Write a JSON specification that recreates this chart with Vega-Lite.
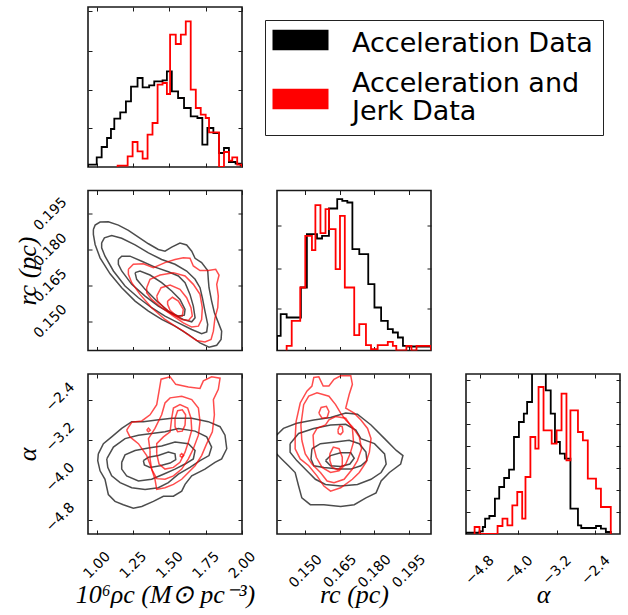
{
"$schema":"https://vega.github.io/schema/vega-lite/v6.json",
"background":"white",
"padding":{"left":13,"top":5,"right":5,"bottom":5},
"config":{
"view":{"stroke":"#1a1a1a","strokeWidth":1.6},
"axis":{"domain":false,"grid":false,"ticks":true,"tickSize":-4,"tickColor":"#1a1a1a","tickWidth":1,"labelFont":"DejaVu Sans","labelFontSize":14,"labelColor":"black","labelAngle":-45,"labelAlign":"center","labelBaseline":"middle","labelOverlap":false,"labelFlush":false,"titleFont":"Liberation Serif","titleFontStyle":"italic","titleFontWeight":"normal","titleFontSize":26,"titleColor":"black","titleAlign":"center","titleBaseline":"middle"}
},
"datasets":{
"hr":[
{"s":"A","x":0.94,"h":0},{"s":"A","x":0.94,"h":7},{"s":"A","x":1.0,"h":29},{"s":"A","x":1.034,"h":60},{"s":"A","x":1.071,"h":87},{"s":"A","x":1.098,"h":114},{"s":"A","x":1.121,"h":145},{"s":"A","x":1.162,"h":164},{"s":"A","x":1.201,"h":197},{"s":"A","x":1.236,"h":241},{"s":"A","x":1.281,"h":267},{"s":"A","x":1.316,"h":239},{"s":"A","x":1.361,"h":245},{"s":"A","x":1.396,"h":257},{"s":"A","x":1.453,"h":260},{"s":"A","x":1.483,"h":287},{"s":"A","x":1.517,"h":227},{"s":"A","x":1.56,"h":207},{"s":"A","x":1.601,"h":177},{"s":"A","x":1.647,"h":152},{"s":"A","x":1.693,"h":147},{"s":"A","x":1.727,"h":67},{"s":"A","x":1.762,"h":117},{"s":"A","x":1.803,"h":102},{"s":"A","x":1.842,"h":42},{"s":"A","x":1.876,"h":57},{"s":"A","x":1.91,"h":15},{"s":"A","x":1.956,"h":10},{"s":"A","x":1.99,"h":5},{"s":"A","x":2.0,"h":0},
{"s":"J","x":1.144,"h":0},{"s":"J","x":1.144,"h":4},{"s":"J","x":1.213,"h":32},{"s":"J","x":1.247,"h":75},{"s":"J","x":1.281,"h":47},{"s":"J","x":1.316,"h":25},{"s":"J","x":1.35,"h":97},{"s":"J","x":1.384,"h":132},{"s":"J","x":1.419,"h":247},{"s":"J","x":1.453,"h":252},{"s":"J","x":1.483,"h":219},{"s":"J","x":1.505,"h":397},{"s":"J","x":1.544,"h":369},{"s":"J","x":1.579,"h":397},{"s":"J","x":1.613,"h":437},{"s":"J","x":1.647,"h":232},{"s":"J","x":1.682,"h":177},{"s":"J","x":1.716,"h":157},{"s":"J","x":1.75,"h":147},{"s":"J","x":1.773,"h":104},{"s":"J","x":1.842,"h":0},{"s":"J","x":1.876,"h":45},{"s":"J","x":1.91,"h":19},{"s":"J","x":1.933,"h":29},{"s":"J","x":1.967,"h":7},{"s":"J","x":2.0,"h":0}
],
"hc":[
{"s":"A","x":0.1377,"h":0},{"s":"A","x":0.1377,"h":44},{"s":"A","x":0.1393,"h":109},{"s":"A","x":0.1419,"h":99},{"s":"A","x":0.1481,"h":189},{"s":"A","x":0.1507,"h":349},{"s":"A","x":0.1551,"h":336},{"s":"A","x":0.1573,"h":344},{"s":"A","x":0.1603,"h":426},{"s":"A","x":0.1639,"h":454},{"s":"A","x":0.1661,"h":449},{"s":"A","x":0.1683,"h":444},{"s":"A","x":0.1705,"h":304},{"s":"A","x":0.1735,"h":289},{"s":"A","x":0.1774,"h":199},{"s":"A","x":0.1801,"h":129},{"s":"A","x":0.183,"h":89},{"s":"A","x":0.1859,"h":64},{"s":"A","x":0.1881,"h":54},{"s":"A","x":0.1903,"h":39},{"s":"A","x":0.1925,"h":14},{"s":"A","x":0.1947,"h":12},{"s":"A","x":0.2047,"h":0},
{"s":"J","x":0.1419,"h":0},{"s":"J","x":0.1419,"h":14},{"s":"J","x":0.1441,"h":89},{"s":"J","x":0.1478,"h":189},{"s":"J","x":0.15,"h":344},{"s":"J","x":0.1529,"h":301},{"s":"J","x":0.1544,"h":436},{"s":"J","x":0.1566,"h":352},{"s":"J","x":0.1588,"h":424},{"s":"J","x":0.1603,"h":364},{"s":"J","x":0.1632,"h":244},{"s":"J","x":0.1651,"h":404},{"s":"J","x":0.1672,"h":189},{"s":"J","x":0.1713,"h":46},{"s":"J","x":0.1735,"h":79},{"s":"J","x":0.1764,"h":16},{"s":"J","x":0.1786,"h":4},{"s":"J","x":0.1815,"h":16},{"s":"J","x":0.1859,"h":26},{"s":"J","x":0.1881,"h":14},{"s":"J","x":0.1896,"h":0},{"s":"J","x":0.194,"h":14},{"s":"J","x":0.1962,"h":0},{"s":"J","x":0.1984,"h":14},{"s":"J","x":0.2047,"h":0}
],
"ha":[
{"s":"A","x":-5.08,"h":0},{"s":"A","x":-5.08,"h":4},{"s":"A","x":-4.8,"h":8},{"s":"A","x":-4.732,"h":21},{"s":"A","x":-4.684,"h":46},{"s":"A","x":-4.596,"h":54},{"s":"A","x":-4.481,"h":106},{"s":"A","x":-4.392,"h":141},{"s":"A","x":-4.29,"h":168},{"s":"A","x":-4.188,"h":193},{"s":"A","x":-4.086,"h":291},{"s":"A","x":-3.984,"h":336},{"s":"A","x":-3.882,"h":361},{"s":"A","x":-3.814,"h":396},{"s":"A","x":-3.712,"h":506},{"s":"A","x":-3.427,"h":431},{"s":"A","x":-3.325,"h":361},{"s":"A","x":-3.237,"h":276},{"s":"A","x":-3.135,"h":241},{"s":"A","x":-3.033,"h":226},{"s":"A","x":-2.917,"h":76},{"s":"A","x":-2.761,"h":26},{"s":"A","x":-2.693,"h":18},{"s":"A","x":-2.387,"h":24},{"s":"A","x":-2.285,"h":16},{"s":"A","x":-2.183,"h":6},{"s":"A","x":-2.081,"h":0},
{"s":"J","x":-4.902,"h":0},{"s":"J","x":-4.902,"h":21},{"s":"J","x":-4.8,"h":0},{"s":"J","x":-4.426,"h":24},{"s":"J","x":-4.324,"h":46},{"s":"J","x":-4.222,"h":26},{"s":"J","x":-4.12,"h":86},{"s":"J","x":-4.018,"h":126},{"s":"J","x":-3.916,"h":46},{"s":"J","x":-3.848,"h":171},{"s":"J","x":-3.746,"h":291},{"s":"J","x":-3.644,"h":256},{"s":"J","x":-3.577,"h":441},{"s":"J","x":-3.474,"h":311},{"s":"J","x":-3.305,"h":271},{"s":"J","x":-3.203,"h":311},{"s":"J","x":-3.101,"h":421},{"s":"J","x":-2.999,"h":221},{"s":"J","x":-2.917,"h":371},{"s":"J","x":-2.761,"h":306},{"s":"J","x":-2.659,"h":281},{"s":"J","x":-2.557,"h":166},{"s":"J","x":-2.387,"h":136},{"s":"J","x":-2.285,"h":81},{"s":"J","x":-2.081,"h":0}
],
"c1":[
{"s":"A","c":1,"x":0.977,"y":0.1884},{"s":"A","c":1,"x":0.989,"y":0.1902},{"s":"A","c":1,"x":1.023,"y":0.1915},{"s":"A","c":1,"x":1.08,"y":0.1916},{"s":"A","c":1,"x":1.149,"y":0.1902},{"s":"A","c":1,"x":1.218,"y":0.188},{"s":"A","c":1,"x":1.287,"y":0.1852},{"s":"A","c":1,"x":1.356,"y":0.1824},{"s":"A","c":1,"x":1.424,"y":0.18},{"s":"A","c":1,"x":1.47,"y":0.1793},{"s":"A","c":1,"x":1.516,"y":0.181},{"s":"A","c":1,"x":1.573,"y":0.1827},{"s":"A","c":1,"x":1.619,"y":0.1819},{"s":"A","c":1,"x":1.654,"y":0.1793},{"s":"A","c":1,"x":1.677,"y":0.1763},{"s":"A","c":1,"x":1.722,"y":0.1745},{"s":"A","c":1,"x":1.764,"y":0.1712},{"s":"A","c":1,"x":1.768,"y":0.1675},{"s":"A","c":1,"x":1.773,"y":0.164},{"s":"A","c":1,"x":1.791,"y":0.1584},{"s":"A","c":1,"x":1.81,"y":0.1535},{"s":"A","c":1,"x":1.833,"y":0.15},{"s":"A","c":1,"x":1.86,"y":0.1458},{"s":"A","c":1,"x":1.856,"y":0.1423},{"s":"A","c":1,"x":1.826,"y":0.1399},{"s":"A","c":1,"x":1.773,"y":0.1391},{"s":"A","c":1,"x":1.711,"y":0.1409},{"s":"A","c":1,"x":1.631,"y":0.1444},{"s":"A","c":1,"x":1.539,"y":0.1479},{"s":"A","c":1,"x":1.447,"y":0.1507},{"s":"A","c":1,"x":1.356,"y":0.1542},{"s":"A","c":1,"x":1.264,"y":0.1584},{"s":"A","c":1,"x":1.172,"y":0.164},{"s":"A","c":1,"x":1.092,"y":0.1698},{"s":"A","c":1,"x":1.023,"y":0.1765},{"s":"A","c":1,"x":0.989,"y":0.1821},{"s":"A","c":1,"x":0.977,"y":0.1863},{"s":"A","c":1,"x":0.977,"y":0.1884},
{"s":"A","c":2,"x":1.034,"y":0.1828},{"s":"A","c":2,"x":1.053,"y":0.1849},{"s":"A","c":2,"x":1.103,"y":0.1858},{"s":"A","c":2,"x":1.172,"y":0.1847},{"s":"A","c":2,"x":1.264,"y":0.1819},{"s":"A","c":2,"x":1.356,"y":0.1786},{"s":"A","c":2,"x":1.447,"y":0.1758},{"s":"A","c":2,"x":1.539,"y":0.1738},{"s":"A","c":2,"x":1.619,"y":0.171},{"s":"A","c":2,"x":1.677,"y":0.1675},{"s":"A","c":2,"x":1.711,"y":0.164},{"s":"A","c":2,"x":1.727,"y":0.1598},{"s":"A","c":2,"x":1.745,"y":0.1542},{"s":"A","c":2,"x":1.764,"y":0.1486},{"s":"A","c":2,"x":1.757,"y":0.1455},{"s":"A","c":2,"x":1.722,"y":0.1447},{"s":"A","c":2,"x":1.654,"y":0.1465},{"s":"A","c":2,"x":1.562,"y":0.1493},{"s":"A","c":2,"x":1.47,"y":0.1521},{"s":"A","c":2,"x":1.378,"y":0.1556},{"s":"A","c":2,"x":1.287,"y":0.1598},{"s":"A","c":2,"x":1.195,"y":0.1647},{"s":"A","c":2,"x":1.115,"y":0.171},{"s":"A","c":2,"x":1.057,"y":0.1772},{"s":"A","c":2,"x":1.034,"y":0.1807},{"s":"A","c":2,"x":1.034,"y":0.1828},
{"s":"A","c":3,"x":1.149,"y":0.1758},{"s":"A","c":3,"x":1.172,"y":0.1772},{"s":"A","c":3,"x":1.229,"y":0.1772},{"s":"A","c":3,"x":1.31,"y":0.1751},{"s":"A","c":3,"x":1.401,"y":0.1726},{"s":"A","c":3,"x":1.493,"y":0.1707},{"s":"A","c":3,"x":1.562,"y":0.1689},{"s":"A","c":3,"x":1.608,"y":0.1661},{"s":"A","c":3,"x":1.642,"y":0.1612},{"s":"A","c":3,"x":1.665,"y":0.1563},{"s":"A","c":3,"x":1.677,"y":0.1514},{"s":"A","c":3,"x":1.654,"y":0.1497},{"s":"A","c":3,"x":1.596,"y":0.1507},{"s":"A","c":3,"x":1.516,"y":0.1531},{"s":"A","c":3,"x":1.424,"y":0.1563},{"s":"A","c":3,"x":1.333,"y":0.1605},{"s":"A","c":3,"x":1.241,"y":0.1654},{"s":"A","c":3,"x":1.172,"y":0.171},{"s":"A","c":3,"x":1.149,"y":0.1738},{"s":"A","c":3,"x":1.149,"y":0.1758},
{"s":"A","c":4,"x":1.264,"y":0.1703},{"s":"A","c":4,"x":1.298,"y":0.171},{"s":"A","c":4,"x":1.367,"y":0.1693},{"s":"A","c":4,"x":1.447,"y":0.1661},{"s":"A","c":4,"x":1.516,"y":0.1626},{"s":"A","c":4,"x":1.573,"y":0.1591},{"s":"A","c":4,"x":1.608,"y":0.1549},{"s":"A","c":4,"x":1.603,"y":0.1525},{"s":"A","c":4,"x":1.562,"y":0.1521},{"s":"A","c":4,"x":1.493,"y":0.1542},{"s":"A","c":4,"x":1.413,"y":0.1584},{"s":"A","c":4,"x":1.333,"y":0.1633},{"s":"A","c":4,"x":1.275,"y":0.1675},{"s":"A","c":4,"x":1.264,"y":0.1703},
{"s":"J","c":1,"x":1.218,"y":0.1717},{"s":"J","c":1,"x":1.252,"y":0.1738},{"s":"J","c":1,"x":1.321,"y":0.174},{"s":"J","c":1,"x":1.39,"y":0.1724},{"s":"J","c":1,"x":1.47,"y":0.1745},{"s":"J","c":1,"x":1.539,"y":0.1758},{"s":"J","c":1,"x":1.596,"y":0.1765},{"s":"J","c":1,"x":1.642,"y":0.1763},{"s":"J","c":1,"x":1.665,"y":0.1731},{"s":"J","c":1,"x":1.711,"y":0.1712},{"s":"J","c":1,"x":1.768,"y":0.1712},{"s":"J","c":1,"x":1.819,"y":0.1717},{"s":"J","c":1,"x":1.842,"y":0.1693},{"s":"J","c":1,"x":1.826,"y":0.1654},{"s":"J","c":1,"x":1.837,"y":0.1605},{"s":"J","c":1,"x":1.833,"y":0.1556},{"s":"J","c":1,"x":1.814,"y":0.1514},{"s":"J","c":1,"x":1.803,"y":0.1458},{"s":"J","c":1,"x":1.787,"y":0.1423},{"s":"J","c":1,"x":1.745,"y":0.1413},{"s":"J","c":1,"x":1.688,"y":0.1419},{"s":"J","c":1,"x":1.642,"y":0.1437},{"s":"J","c":1,"x":1.596,"y":0.1458},{"s":"J","c":1,"x":1.539,"y":0.1479},{"s":"J","c":1,"x":1.47,"y":0.1507},{"s":"J","c":1,"x":1.378,"y":0.1556},{"s":"J","c":1,"x":1.298,"y":0.1612},{"s":"J","c":1,"x":1.241,"y":0.1661},{"s":"J","c":1,"x":1.218,"y":0.1696},{"s":"J","c":1,"x":1.218,"y":0.1717},
{"s":"J","c":2,"x":1.344,"y":0.164},{"s":"J","c":2,"x":1.367,"y":0.1675},{"s":"J","c":2,"x":1.436,"y":0.1693},{"s":"J","c":2,"x":1.528,"y":0.1703},{"s":"J","c":2,"x":1.608,"y":0.1689},{"s":"J","c":2,"x":1.665,"y":0.1654},{"s":"J","c":2,"x":1.711,"y":0.1612},{"s":"J","c":2,"x":1.727,"y":0.1556},{"s":"J","c":2,"x":1.722,"y":0.1507},{"s":"J","c":2,"x":1.7,"y":0.1479},{"s":"J","c":2,"x":1.654,"y":0.1475},{"s":"J","c":2,"x":1.596,"y":0.1493},{"s":"J","c":2,"x":1.528,"y":0.1521},{"s":"J","c":2,"x":1.447,"y":0.1556},{"s":"J","c":2,"x":1.378,"y":0.1591},{"s":"J","c":2,"x":1.344,"y":0.1619},{"s":"J","c":2,"x":1.344,"y":0.164},
{"s":"J","c":3,"x":1.413,"y":0.1605},{"s":"J","c":3,"x":1.443,"y":0.164},{"s":"J","c":3,"x":1.505,"y":0.1651},{"s":"J","c":3,"x":1.573,"y":0.1633},{"s":"J","c":3,"x":1.619,"y":0.1598},{"s":"J","c":3,"x":1.649,"y":0.1556},{"s":"J","c":3,"x":1.658,"y":0.1521},{"s":"J","c":3,"x":1.631,"y":0.1503},{"s":"J","c":3,"x":1.585,"y":0.1507},{"s":"J","c":3,"x":1.516,"y":0.1531},{"s":"J","c":3,"x":1.459,"y":0.1559},{"s":"J","c":3,"x":1.42,"y":0.1584},{"s":"J","c":3,"x":1.413,"y":0.1605},
{"s":"J","c":4,"x":1.488,"y":0.1584},{"s":"J","c":4,"x":1.521,"y":0.16},{"s":"J","c":4,"x":1.562,"y":0.1584},{"s":"J","c":4,"x":1.596,"y":0.1549},{"s":"J","c":4,"x":1.589,"y":0.1521},{"s":"J","c":4,"x":1.55,"y":0.1521},{"s":"J","c":4,"x":1.505,"y":0.1545},{"s":"J","c":4,"x":1.488,"y":0.157},{"s":"J","c":4,"x":1.488,"y":0.1584}
],
"c2":[
{"s":"A","c":1,"x":1.011,"y":-3.482},{"s":"A","c":1,"x":1.046,"y":-3.279},{"s":"A","c":1,"x":1.103,"y":-3.144},{"s":"A","c":1,"x":1.172,"y":-2.975},{"s":"A","c":1,"x":1.241,"y":-2.84},{"s":"A","c":1,"x":1.321,"y":-2.84},{"s":"A","c":1,"x":1.413,"y":-2.806},{"s":"A","c":1,"x":1.516,"y":-2.772},{"s":"A","c":1,"x":1.654,"y":-2.772},{"s":"A","c":1,"x":1.768,"y":-2.84},{"s":"A","c":1,"x":1.849,"y":-2.941},{"s":"A","c":1,"x":1.883,"y":-3.11},{"s":"A","c":1,"x":1.895,"y":-3.38},{"s":"A","c":1,"x":1.86,"y":-3.583},{"s":"A","c":1,"x":1.814,"y":-3.651},{"s":"A","c":1,"x":1.745,"y":-3.786},{"s":"A","c":1,"x":1.654,"y":-3.921},{"s":"A","c":1,"x":1.608,"y":-4.091},{"s":"A","c":1,"x":1.585,"y":-4.226},{"s":"A","c":1,"x":1.528,"y":-4.327},{"s":"A","c":1,"x":1.459,"y":-4.327},{"s":"A","c":1,"x":1.39,"y":-4.429},{"s":"A","c":1,"x":1.31,"y":-4.53},{"s":"A","c":1,"x":1.252,"y":-4.564},{"s":"A","c":1,"x":1.183,"y":-4.496},{"s":"A","c":1,"x":1.126,"y":-4.429},{"s":"A","c":1,"x":1.08,"y":-4.293},{"s":"A","c":1,"x":1.057,"y":-3.989},{"s":"A","c":1,"x":1.023,"y":-3.82},{"s":"A","c":1,"x":1.007,"y":-3.617},{"s":"A","c":1,"x":1.011,"y":-3.482},
{"s":"A","c":2,"x":1.069,"y":-3.583},{"s":"A","c":2,"x":1.115,"y":-3.347},{"s":"A","c":2,"x":1.195,"y":-3.178},{"s":"A","c":2,"x":1.287,"y":-3.11},{"s":"A","c":2,"x":1.378,"y":-3.076},{"s":"A","c":2,"x":1.47,"y":-3.042},{"s":"A","c":2,"x":1.562,"y":-2.975},{"s":"A","c":2,"x":1.677,"y":-3.029},{"s":"A","c":2,"x":1.757,"y":-3.144},{"s":"A","c":2,"x":1.791,"y":-3.347},{"s":"A","c":2,"x":1.773,"y":-3.516},{"s":"A","c":2,"x":1.711,"y":-3.617},{"s":"A","c":2,"x":1.642,"y":-3.752},{"s":"A","c":2,"x":1.562,"y":-3.888},{"s":"A","c":2,"x":1.493,"y":-4.057},{"s":"A","c":2,"x":1.424,"y":-4.158},{"s":"A","c":2,"x":1.333,"y":-4.192},{"s":"A","c":2,"x":1.241,"y":-4.158},{"s":"A","c":2,"x":1.161,"y":-4.057},{"s":"A","c":2,"x":1.103,"y":-3.921},{"s":"A","c":2,"x":1.076,"y":-3.752},{"s":"A","c":2,"x":1.069,"y":-3.583},
{"s":"A","c":3,"x":1.172,"y":-3.651},{"s":"A","c":3,"x":1.195,"y":-3.502},{"s":"A","c":3,"x":1.264,"y":-3.414},{"s":"A","c":3,"x":1.356,"y":-3.367},{"s":"A","c":3,"x":1.447,"y":-3.326},{"s":"A","c":3,"x":1.539,"y":-3.245},{"s":"A","c":3,"x":1.631,"y":-3.279},{"s":"A","c":3,"x":1.677,"y":-3.414},{"s":"A","c":3,"x":1.665,"y":-3.583},{"s":"A","c":3,"x":1.608,"y":-3.685},{"s":"A","c":3,"x":1.539,"y":-3.786},{"s":"A","c":3,"x":1.459,"y":-3.888},{"s":"A","c":3,"x":1.378,"y":-3.989},{"s":"A","c":3,"x":1.287,"y":-4.023},{"s":"A","c":3,"x":1.206,"y":-3.921},{"s":"A","c":3,"x":1.172,"y":-3.786},{"s":"A","c":3,"x":1.172,"y":-3.651},
{"s":"A","c":4,"x":1.321,"y":-3.617},{"s":"A","c":4,"x":1.356,"y":-3.55},{"s":"A","c":4,"x":1.424,"y":-3.516},{"s":"A","c":4,"x":1.493,"y":-3.448},{"s":"A","c":4,"x":1.539,"y":-3.482},{"s":"A","c":4,"x":1.544,"y":-3.597},{"s":"A","c":4,"x":1.505,"y":-3.665},{"s":"A","c":4,"x":1.436,"y":-3.719},{"s":"A","c":4,"x":1.367,"y":-3.752},{"s":"A","c":4,"x":1.328,"y":-3.705},{"s":"A","c":4,"x":1.321,"y":-3.617},
{"s":"J","c":1,"x":1.206,"y":-3.009},{"s":"J","c":1,"x":1.241,"y":-2.853},{"s":"J","c":1,"x":1.31,"y":-2.826},{"s":"J","c":1,"x":1.367,"y":-2.704},{"s":"J","c":1,"x":1.413,"y":-2.501},{"s":"J","c":1,"x":1.429,"y":-2.231},{"s":"J","c":1,"x":1.443,"y":-1.994},{"s":"J","c":1,"x":1.505,"y":-1.947},{"s":"J","c":1,"x":1.544,"y":-2.096},{"s":"J","c":1,"x":1.631,"y":-2.15},{"s":"J","c":1,"x":1.711,"y":-2.177},{"s":"J","c":1,"x":1.734,"y":-2.028},{"s":"J","c":1,"x":1.791,"y":-1.947},{"s":"J","c":1,"x":1.849,"y":-1.974},{"s":"J","c":1,"x":1.837,"y":-2.197},{"s":"J","c":1,"x":1.803,"y":-2.4},{"s":"J","c":1,"x":1.81,"y":-2.704},{"s":"J","c":1,"x":1.796,"y":-3.042},{"s":"J","c":1,"x":1.757,"y":-3.279},{"s":"J","c":1,"x":1.722,"y":-3.516},{"s":"J","c":1,"x":1.677,"y":-3.719},{"s":"J","c":1,"x":1.631,"y":-3.854},{"s":"J","c":1,"x":1.585,"y":-3.989},{"s":"J","c":1,"x":1.528,"y":-4.091},{"s":"J","c":1,"x":1.47,"y":-4.158},{"s":"J","c":1,"x":1.413,"y":-4.192},{"s":"J","c":1,"x":1.401,"y":-3.989},{"s":"J","c":1,"x":1.378,"y":-3.786},{"s":"J","c":1,"x":1.344,"y":-3.516},{"s":"J","c":1,"x":1.287,"y":-3.279},{"s":"J","c":1,"x":1.229,"y":-3.144},{"s":"J","c":1,"x":1.206,"y":-3.009},
{"s":"J","c":2,"x":1.367,"y":-3.414},{"s":"J","c":2,"x":1.356,"y":-3.178},{"s":"J","c":2,"x":1.401,"y":-2.975},{"s":"J","c":2,"x":1.447,"y":-2.704},{"s":"J","c":2,"x":1.47,"y":-2.468},{"s":"J","c":2,"x":1.505,"y":-2.366},{"s":"J","c":2,"x":1.585,"y":-2.332},{"s":"J","c":2,"x":1.654,"y":-2.4},{"s":"J","c":2,"x":1.7,"y":-2.569},{"s":"J","c":2,"x":1.711,"y":-2.84},{"s":"J","c":2,"x":1.7,"y":-3.11},{"s":"J","c":2,"x":1.665,"y":-3.38},{"s":"J","c":2,"x":1.631,"y":-3.583},{"s":"J","c":2,"x":1.585,"y":-3.786},{"s":"J","c":2,"x":1.528,"y":-3.921},{"s":"J","c":2,"x":1.47,"y":-3.989},{"s":"J","c":2,"x":1.413,"y":-3.976},{"s":"J","c":2,"x":1.378,"y":-3.786},{"s":"J","c":2,"x":1.367,"y":-3.583},{"s":"J","c":2,"x":1.367,"y":-3.414},
{"s":"J","c":3,"x":1.413,"y":-3.482},{"s":"J","c":3,"x":1.413,"y":-3.279},{"s":"J","c":3,"x":1.459,"y":-3.144},{"s":"J","c":3,"x":1.505,"y":-3.042},{"s":"J","c":3,"x":1.516,"y":-2.772},{"s":"J","c":3,"x":1.528,"y":-2.569},{"s":"J","c":3,"x":1.573,"y":-2.501},{"s":"J","c":3,"x":1.626,"y":-2.569},{"s":"J","c":3,"x":1.649,"y":-2.772},{"s":"J","c":3,"x":1.654,"y":-3.009},{"s":"J","c":3,"x":1.631,"y":-3.245},{"s":"J","c":3,"x":1.608,"y":-3.448},{"s":"J","c":3,"x":1.573,"y":-3.651},{"s":"J","c":3,"x":1.528,"y":-3.752},{"s":"J","c":3,"x":1.47,"y":-3.786},{"s":"J","c":3,"x":1.429,"y":-3.685},{"s":"J","c":3,"x":1.413,"y":-3.482},
{"s":"J","c":4,"x":1.539,"y":-2.772},{"s":"J","c":4,"x":1.557,"y":-2.623},{"s":"J","c":4,"x":1.589,"y":-2.603},{"s":"J","c":4,"x":1.612,"y":-2.704},{"s":"J","c":4,"x":1.608,"y":-2.907},{"s":"J","c":4,"x":1.589,"y":-3.029},{"s":"J","c":4,"x":1.557,"y":-3.042},{"s":"J","c":4,"x":1.539,"y":-2.941},{"s":"J","c":4,"x":1.539,"y":-2.772},
{"s":"J","c":5,"x":1.344,"y":-3.009},{"s":"J","c":5,"x":1.356,"y":-2.968},{"s":"J","c":5,"x":1.369,"y":-3.009},{"s":"J","c":5,"x":1.356,"y":-3.042},{"s":"J","c":5,"x":1.344,"y":-3.009},
{"s":"J","c":6,"x":1.571,"y":-3.516},{"s":"J","c":6,"x":1.585,"y":-3.475},{"s":"J","c":6,"x":1.598,"y":-3.516},{"s":"J","c":6,"x":1.585,"y":-3.55},{"s":"J","c":6,"x":1.571,"y":-3.516}
],
"c3":[
{"s":"A","c":1,"x":0.1375,"y":-3.11},{"s":"A","c":1,"x":0.1405,"y":-2.975},{"s":"A","c":1,"x":0.1463,"y":-2.873},{"s":"A","c":1,"x":0.1537,"y":-2.806},{"s":"A","c":1,"x":0.161,"y":-2.758},{"s":"A","c":1,"x":0.1676,"y":-2.67},{"s":"A","c":1,"x":0.1727,"y":-2.691},{"s":"A","c":1,"x":0.1786,"y":-2.907},{"s":"A","c":1,"x":0.1845,"y":-3.178},{"s":"A","c":1,"x":0.1896,"y":-3.414},{"s":"A","c":1,"x":0.1925,"y":-3.516},{"s":"A","c":1,"x":0.1915,"y":-3.685},{"s":"A","c":1,"x":0.1866,"y":-3.854},{"s":"A","c":1,"x":0.183,"y":-4.023},{"s":"A","c":1,"x":0.1808,"y":-4.26},{"s":"A","c":1,"x":0.1764,"y":-4.361},{"s":"A","c":1,"x":0.1713,"y":-4.496},{"s":"A","c":1,"x":0.1654,"y":-4.53},{"s":"A","c":1,"x":0.1581,"y":-4.496},{"s":"A","c":1,"x":0.1522,"y":-4.496},{"s":"A","c":1,"x":0.1485,"y":-4.361},{"s":"A","c":1,"x":0.1471,"y":-4.124},{"s":"A","c":1,"x":0.1456,"y":-3.854},{"s":"A","c":1,"x":0.1427,"y":-3.719},{"s":"A","c":1,"x":0.1397,"y":-3.583},{"s":"A","c":1,"x":0.1375,"y":-3.482},
{"s":"A","c":2,"x":0.1434,"y":-3.279},{"s":"A","c":2,"x":0.1471,"y":-3.076},{"s":"A","c":2,"x":0.1537,"y":-2.975},{"s":"A","c":2,"x":0.161,"y":-2.907},{"s":"A","c":2,"x":0.1676,"y":-2.894},{"s":"A","c":2,"x":0.172,"y":-3.009},{"s":"A","c":2,"x":0.1742,"y":-3.178},{"s":"A","c":2,"x":0.1801,"y":-3.279},{"s":"A","c":2,"x":0.1845,"y":-3.482},{"s":"A","c":2,"x":0.1852,"y":-3.685},{"s":"A","c":2,"x":0.183,"y":-3.854},{"s":"A","c":2,"x":0.1786,"y":-3.989},{"s":"A","c":2,"x":0.1727,"y":-4.091},{"s":"A","c":2,"x":0.1654,"y":-4.124},{"s":"A","c":2,"x":0.1588,"y":-4.091},{"s":"A","c":2,"x":0.1544,"y":-3.989},{"s":"A","c":2,"x":0.1507,"y":-3.82},{"s":"A","c":2,"x":0.1463,"y":-3.617},{"s":"A","c":2,"x":0.1434,"y":-3.448},{"s":"A","c":2,"x":0.1434,"y":-3.279},
{"s":"A","c":3,"x":0.1529,"y":-3.38},{"s":"A","c":3,"x":0.1566,"y":-3.279},{"s":"A","c":3,"x":0.1632,"y":-3.245},{"s":"A","c":3,"x":0.1691,"y":-3.211},{"s":"A","c":3,"x":0.1735,"y":-3.279},{"s":"A","c":3,"x":0.1764,"y":-3.448},{"s":"A","c":3,"x":0.1768,"y":-3.617},{"s":"A","c":3,"x":0.1742,"y":-3.719},{"s":"A","c":3,"x":0.1698,"y":-3.786},{"s":"A","c":3,"x":0.1647,"y":-3.786},{"s":"A","c":3,"x":0.1581,"y":-3.752},{"s":"A","c":3,"x":0.1537,"y":-3.719},{"s":"A","c":3,"x":0.1525,"y":-3.583},{"s":"A","c":3,"x":0.1529,"y":-3.38},
{"s":"A","c":4,"x":0.1588,"y":-3.617},{"s":"A","c":4,"x":0.161,"y":-3.516},{"s":"A","c":4,"x":0.1654,"y":-3.462},{"s":"A","c":4,"x":0.1698,"y":-3.462},{"s":"A","c":4,"x":0.1713,"y":-3.57},{"s":"A","c":4,"x":0.1694,"y":-3.685},{"s":"A","c":4,"x":0.1654,"y":-3.732},{"s":"A","c":4,"x":0.161,"y":-3.719},{"s":"A","c":4,"x":0.1588,"y":-3.617},
{"s":"J","c":1,"x":0.1456,"y":-3.178},{"s":"J","c":1,"x":0.146,"y":-2.84},{"s":"J","c":1,"x":0.1478,"y":-2.468},{"s":"J","c":1,"x":0.1507,"y":-2.231},{"s":"J","c":1,"x":0.1529,"y":-2.13},{"s":"J","c":1,"x":0.1537,"y":-1.96},{"s":"J","c":1,"x":0.1559,"y":-1.947},{"s":"J","c":1,"x":0.1578,"y":-2.13},{"s":"J","c":1,"x":0.1603,"y":-2.13},{"s":"J","c":1,"x":0.1625,"y":-1.994},{"s":"J","c":1,"x":0.1654,"y":-1.927},{"s":"J","c":1,"x":0.1698,"y":-1.927},{"s":"J","c":1,"x":0.1705,"y":-2.096},{"s":"J","c":1,"x":0.1691,"y":-2.299},{"s":"J","c":1,"x":0.1676,"y":-2.569},{"s":"J","c":1,"x":0.1713,"y":-2.67},{"s":"J","c":1,"x":0.1742,"y":-2.806},{"s":"J","c":1,"x":0.1771,"y":-2.975},{"s":"J","c":1,"x":0.1786,"y":-3.178},{"s":"J","c":1,"x":0.1779,"y":-3.448},{"s":"J","c":1,"x":0.1764,"y":-3.651},{"s":"J","c":1,"x":0.1735,"y":-3.854},{"s":"J","c":1,"x":0.1705,"y":-3.989},{"s":"J","c":1,"x":0.1654,"y":-4.158},{"s":"J","c":1,"x":0.161,"y":-4.226},{"s":"J","c":1,"x":0.1581,"y":-4.124},{"s":"J","c":1,"x":0.1551,"y":-3.921},{"s":"J","c":1,"x":0.1515,"y":-3.719},{"s":"J","c":1,"x":0.1478,"y":-3.583},{"s":"J","c":1,"x":0.1456,"y":-3.38},{"s":"J","c":1,"x":0.1456,"y":-3.178},
{"s":"J","c":2,"x":0.1485,"y":-3.211},{"s":"J","c":2,"x":0.1481,"y":-2.907},{"s":"J","c":2,"x":0.1493,"y":-2.501},{"s":"J","c":2,"x":0.1515,"y":-2.332},{"s":"J","c":2,"x":0.1551,"y":-2.265},{"s":"J","c":2,"x":0.1603,"y":-2.332},{"s":"J","c":2,"x":0.1632,"y":-2.501},{"s":"J","c":2,"x":0.1654,"y":-2.67},{"s":"J","c":2,"x":0.1676,"y":-2.806},{"s":"J","c":2,"x":0.1705,"y":-2.941},{"s":"J","c":2,"x":0.1735,"y":-3.144},{"s":"J","c":2,"x":0.1745,"y":-3.38},{"s":"J","c":2,"x":0.1727,"y":-3.617},{"s":"J","c":2,"x":0.1705,"y":-3.786},{"s":"J","c":2,"x":0.1669,"y":-3.989},{"s":"J","c":2,"x":0.1625,"y":-4.057},{"s":"J","c":2,"x":0.1595,"y":-4.023},{"s":"J","c":2,"x":0.1566,"y":-3.854},{"s":"J","c":2,"x":0.1529,"y":-3.685},{"s":"J","c":2,"x":0.15,"y":-3.482},{"s":"J","c":2,"x":0.1485,"y":-3.211},
{"s":"J","c":3,"x":0.1537,"y":-3.347},{"s":"J","c":3,"x":0.1534,"y":-3.11},{"s":"J","c":3,"x":0.1551,"y":-2.975},{"s":"J","c":3,"x":0.1588,"y":-2.907},{"s":"J","c":3,"x":0.1603,"y":-2.806},{"s":"J","c":3,"x":0.1632,"y":-2.738},{"s":"J","c":3,"x":0.1676,"y":-2.772},{"s":"J","c":3,"x":0.1705,"y":-2.975},{"s":"J","c":3,"x":0.171,"y":-3.245},{"s":"J","c":3,"x":0.1695,"y":-3.482},{"s":"J","c":3,"x":0.1676,"y":-3.685},{"s":"J","c":3,"x":0.1647,"y":-3.82},{"s":"J","c":3,"x":0.161,"y":-3.854},{"s":"J","c":3,"x":0.1573,"y":-3.752},{"s":"J","c":3,"x":0.1548,"y":-3.55},{"s":"J","c":3,"x":0.1537,"y":-3.347},
{"s":"J","c":4,"x":0.1559,"y":-2.67},{"s":"J","c":4,"x":0.1569,"y":-2.556},{"s":"J","c":4,"x":0.1592,"y":-2.535},{"s":"J","c":4,"x":0.1603,"y":-2.637},{"s":"J","c":4,"x":0.1595,"y":-2.758},{"s":"J","c":4,"x":0.1573,"y":-2.772},{"s":"J","c":4,"x":0.1559,"y":-2.67},
{"s":"J","c":5,"x":0.1642,"y":-3.009},{"s":"J","c":5,"x":0.165,"y":-2.921},{"s":"J","c":5,"x":0.1661,"y":-2.941},{"s":"J","c":5,"x":0.1664,"y":-3.042},{"s":"J","c":5,"x":0.1654,"y":-3.097},{"s":"J","c":5,"x":0.1644,"y":-3.076},{"s":"J","c":5,"x":0.1642,"y":-3.009},
{"s":"J","c":6,"x":0.1607,"y":-3.482},{"s":"J","c":6,"x":0.1622,"y":-3.347},{"s":"J","c":6,"x":0.1647,"y":-3.38},{"s":"J","c":6,"x":0.1661,"y":-3.55},{"s":"J","c":6,"x":0.1661,"y":-3.719},{"s":"J","c":6,"x":0.1642,"y":-3.8},{"s":"J","c":6,"x":0.1617,"y":-3.752},{"s":"J","c":6,"x":0.1607,"y":-3.617},{"s":"J","c":6,"x":0.1607,"y":-3.482}
],
"empty":[{"v":0}]
},
"bounds":"flush",
"columns":3,
"spacing":{"row":23.5,"column":35},
"resolve":{"scale":{"color":"shared"},"legend":{"color":"shared"}},
"concat":[
{"width":154,"height":160,"data":{"name":"hr"},
"layer":[
{"mark":{"type":"line","interpolate":"step-after","strokeWidth":1.8,"clip":true},
"encoding":{
"x":{"field":"x","type":"quantitative","scale":{"domain":[0.94,2.0],"nice":false,"zero":false},"axis":{"orient":"bottom","values":[1,1.25,1.5,1.75,2],"labels":false,"title":null}},
"y":{"field":"h","type":"quantitative","scale":{"domain":[0,480],"nice":false,"zero":false},"axis":{"orient":"left","values":[117,232,349,467],"labels":false,"title":null}},
"color":{"field":"s","type":"nominal","scale":{"domain":["A","J"],"range":["black","red"]},
"legend":{"orient":"none","legendX":177,"legendY":13,"title":null,"direction":"vertical","symbolType":"M-2.8,-1.03H2.8V1.03H-2.8Z","symbolSize":400,"symbolOffset":12,"symbolStrokeWidth":0,"labelFont":"DejaVu Sans","labelFontSize":27,"labelColor":"black","labelOffset":38,"labelLimit":500,"padding":10,"rowPadding":12,"strokeColor":"#222","fillColor":"white","labelExpr":"datum.value == 'A' ? 'Acceleration Data' : ['Acceleration and', 'Jerk Data']","encode":{"symbols":{"update":{"fill":{"scale":"color","field":"value"},"stroke":{"value":"transparent"},"opacity":{"value":1},"y":{"signal":"datum.index == 1 ? 29 : 10"}}},"labels":{"update":{"lineHeight":{"value":28}}}}}},
"order":{"value":null}}},
{"mark":{"type":"line","opacity":0},
"encoding":{"x":{"field":"x","type":"quantitative","axis":{"orient":"top","values":[1,1.25,1.5,1.75,2],"labels":false,"title":null}},
"y":{"field":"h","type":"quantitative","axis":{"orient":"right","values":[117,232,349,467],"labels":false,"title":null}}}}
],
"resolve":{"axis":{"x":"independent","y":"independent"}}},
{"width":154,"height":160,"view":{"stroke":null},"data":{"name":"empty"},"mark":{"type":"point","opacity":0},"encoding":{}},
{"width":154,"height":160,"view":{"stroke":null},"data":{"name":"empty"},"mark":{"type":"point","opacity":0},"encoding":{}},
{"width":154,"height":160,"data":{"name":"c1"},
"layer":[
{"mark":{"type":"line","strokeWidth":1.5,"opacity":0.7,"clip":true},
"encoding":{
"x":{"field":"x","type":"quantitative","scale":{"domain":[0.94,2.0],"nice":false,"zero":false},"axis":{"orient":"bottom","values":[1,1.25,1.5,1.75,2],"labels":false,"title":null}},
"y":{"field":"y","type":"quantitative","scale":{"domain":[0.1377,0.2047],"nice":false,"zero":false},"axis":{"orient":"left","values":[0.15,0.165,0.18,0.195],"format":".3f","labelPadding":42,"title":"rc (pc)","titleX":-61,"titleY":80,"titleAngle":-90}},
"color":{"field":"s","type":"nominal"},
"detail":{"field":"c"},
"order":{"value":null}}},
{"mark":{"type":"line","opacity":0},
"encoding":{"x":{"field":"x","type":"quantitative","axis":{"orient":"top","values":[1,1.25,1.5,1.75,2],"labels":false,"title":null}},
"y":{"field":"y","type":"quantitative","axis":{"orient":"right","values":[0.15,0.165,0.18,0.195],"labels":false,"title":null}}}}
],
"resolve":{"axis":{"x":"independent","y":"independent"}}},
{"width":154,"height":160,"data":{"name":"hc"},
"layer":[
{"mark":{"type":"line","interpolate":"step-after","strokeWidth":1.8,"clip":true},
"encoding":{
"x":{"field":"x","type":"quantitative","scale":{"domain":[0.1377,0.2047],"nice":false,"zero":false},"axis":{"orient":"bottom","values":[0.15,0.165,0.18,0.195],"labels":false,"title":null}},
"y":{"field":"h","type":"quantitative","scale":{"domain":[0,480],"nice":false,"zero":false},"axis":{"orient":"left","values":[125,247,376],"labels":false,"title":null}},
"color":{"field":"s","type":"nominal"},
"order":{"value":null}}},
{"mark":{"type":"line","opacity":0},
"encoding":{"x":{"field":"x","type":"quantitative","axis":{"orient":"top","values":[0.15,0.165,0.18,0.195],"labels":false,"title":null}},
"y":{"field":"h","type":"quantitative","axis":{"orient":"right","values":[125,247,376],"labels":false,"title":null}}}}
],
"resolve":{"axis":{"x":"independent","y":"independent"}}},
{"width":154,"height":160,"view":{"stroke":null},"data":{"name":"empty"},"mark":{"type":"point","opacity":0},"encoding":{}},
{"width":154,"height":160,"data":{"name":"c2"},
"layer":[
{"mark":{"type":"line","strokeWidth":1.5,"opacity":0.7,"clip":true},
"encoding":{
"x":{"field":"x","type":"quantitative","scale":{"domain":[0.94,2.0],"nice":false,"zero":false},"axis":{"orient":"bottom","values":[1,1.25,1.5,1.75,2],"format":".2f","labelPadding":35,"title":"10⁶ρc (M⊙ pc⁻³)","titleX":77,"titleY":60}},
"y":{"field":"y","type":"quantitative","scale":{"domain":[-5.08,-1.89],"nice":false,"zero":false},"axis":{"orient":"left","values":[-4.8,-4,-3.2,-2.4],"format":".1f","labelPadding":32,"labelOffset":-3,"title":"α","titleX":-61,"titleY":80,"titleAngle":-90}},
"color":{"field":"s","type":"nominal"},
"detail":{"field":"c"},
"order":{"value":null}}},
{"mark":{"type":"line","opacity":0},
"encoding":{"x":{"field":"x","type":"quantitative","axis":{"orient":"top","values":[1,1.25,1.5,1.75,2],"labels":false,"title":null}},
"y":{"field":"y","type":"quantitative","axis":{"orient":"right","values":[-4.8,-4,-3.2,-2.4],"labels":false,"title":null}}}}
],
"resolve":{"axis":{"x":"independent","y":"independent"}}},
{"width":154,"height":160,"data":{"name":"c3"},
"layer":[
{"mark":{"type":"line","strokeWidth":1.5,"opacity":0.7,"clip":true},
"encoding":{
"x":{"field":"x","type":"quantitative","scale":{"domain":[0.1377,0.2047],"nice":false,"zero":false},"axis":{"orient":"bottom","values":[0.15,0.165,0.18,0.195],"format":".3f","labelPadding":41,"title":"rc (pc)","titleX":77,"titleY":60}},
"y":{"field":"y","type":"quantitative","scale":{"domain":[-5.08,-1.89],"nice":false,"zero":false},"axis":{"orient":"left","values":[-4.8,-4,-3.2,-2.4],"labels":false,"title":null}},
"color":{"field":"s","type":"nominal"},
"detail":{"field":"c"},
"order":{"value":null}}},
{"mark":{"type":"line","opacity":0},
"encoding":{"x":{"field":"x","type":"quantitative","axis":{"orient":"top","values":[0.15,0.165,0.18,0.195],"labels":false,"title":null}},
"y":{"field":"y","type":"quantitative","axis":{"orient":"right","values":[-4.8,-4,-3.2,-2.4],"labels":false,"title":null}}}}
],
"resolve":{"axis":{"x":"independent","y":"independent"}}},
{"width":154,"height":160,"data":{"name":"ha"},
"layer":[
{"mark":{"type":"line","interpolate":"step-after","strokeWidth":1.8,"clip":true},
"encoding":{
"x":{"field":"x","type":"quantitative","scale":{"domain":[-5.08,-1.89],"nice":false,"zero":false},"axis":{"orient":"bottom","values":[-4.8,-4,-3.2,-2.4],"format":".1f","labelPadding":40,"title":"α","titleX":77,"titleY":60}},
"y":{"field":"h","type":"quantitative","scale":{"domain":[0,480],"nice":false,"zero":false},"axis":{"orient":"left","values":[65,131,197,263,329,395,461],"labels":false,"title":null}},
"color":{"field":"s","type":"nominal"},
"order":{"value":null}}},
{"mark":{"type":"line","opacity":0},
"encoding":{"x":{"field":"x","type":"quantitative","axis":{"orient":"top","values":[-4.8,-4,-3.2,-2.4],"labels":false,"title":null}},
"y":{"field":"h","type":"quantitative","axis":{"orient":"right","values":[65,131,197,263,329,395,461],"labels":false,"title":null}}}}
],
"resolve":{"axis":{"x":"independent","y":"independent"}}}
]
}
